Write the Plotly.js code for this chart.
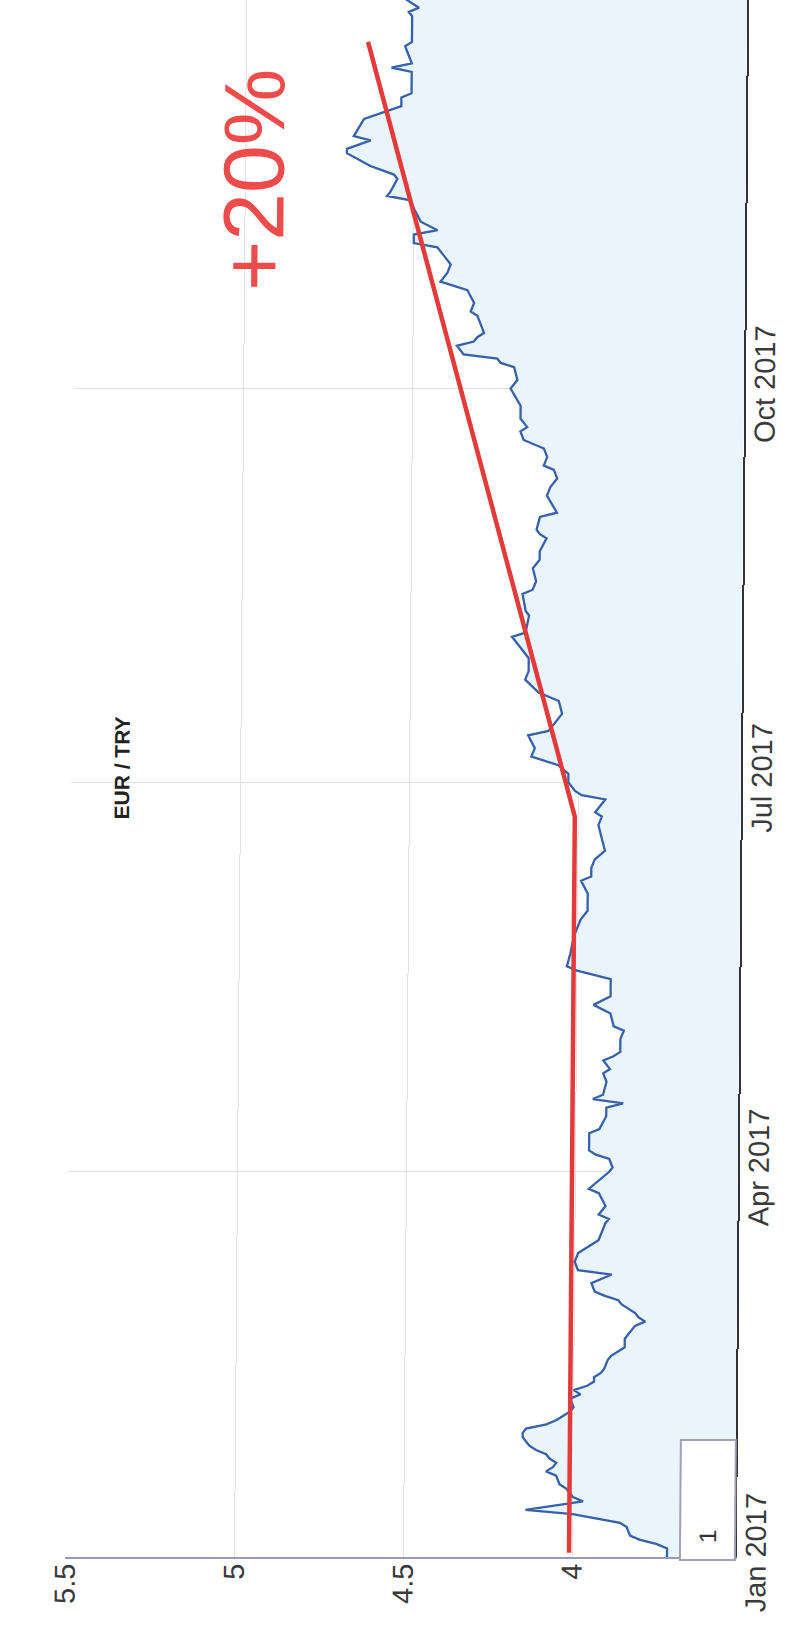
<!DOCTYPE html>
<html>
<head>
<meta charset="utf-8">
<script src="https://cdn.plot.ly/plotly-3.0.1.min.js"></script>
<style>
  html, body { margin: 0; padding: 0; background: #ffffff; overflow: hidden; }
  #chart { width: 787px; height: 1627px; transform: skewX(-0.45deg); transform-origin: 393px 778px; }
</style>
</head>
<body>
<div id="chart"></div>
<script>
// ---- data (EUR / TRY, 2017) ----
const dates = [
  '2017-01-01','2017-01-03','2017-01-04','2017-01-05','2017-01-06','2017-01-08','2017-01-09','2017-01-10',
  '2017-01-11','2017-01-12','2017-01-13','2017-01-14','2017-01-15','2017-01-17','2017-01-18','2017-01-20',
  '2017-01-21','2017-01-22','2017-01-23','2017-01-24','2017-01-25','2017-01-26','2017-01-27','2017-01-29',
  '2017-01-30','2017-01-31',
  '2017-02-01','2017-02-02','2017-02-03','2017-02-04','2017-02-05','2017-02-07','2017-02-08','2017-02-09',
  '2017-02-10','2017-02-11','2017-02-12','2017-02-13','2017-02-14','2017-02-16','2017-02-17','2017-02-18',
  '2017-02-19','2017-02-21','2017-02-23','2017-02-24','2017-02-25','2017-02-26','2017-02-27','2017-02-28',
  '2017-03-01','2017-03-02','2017-03-03','2017-03-04','2017-03-06','2017-03-08','2017-03-09','2017-03-11',
  '2017-03-13','2017-03-15','2017-03-16','2017-03-18','2017-03-20','2017-03-21','2017-03-22','2017-03-24',
  '2017-03-27','2017-03-28','2017-03-30',
  '2017-04-01','2017-04-02','2017-04-04','2017-04-05','2017-04-06','2017-04-08','2017-04-10','2017-04-11',
  '2017-04-14','2017-04-16','2017-04-17','2017-04-18','2017-04-19','2017-04-22','2017-04-24','2017-04-25',
  '2017-04-27','2017-04-28','2017-04-29',
  '2017-05-02','2017-05-04','2017-05-05','2017-05-08','2017-05-10','2017-05-12','2017-05-16','2017-05-18',
  '2017-05-19','2017-05-22','2017-05-26','2017-05-30',
  '2017-06-01','2017-06-05','2017-06-08','2017-06-09','2017-06-11','2017-06-13','2017-06-15','2017-06-18',
  '2017-06-21','2017-06-23','2017-06-24','2017-06-27','2017-06-28','2017-06-29',
  '2017-07-01','2017-07-03','2017-07-05','2017-07-07','2017-07-09','2017-07-12','2017-07-13','2017-07-16',
  '2017-07-17','2017-07-20','2017-07-21','2017-07-22','2017-07-25','2017-07-27','2017-07-30',
  '2017-08-04','2017-08-05','2017-08-09','2017-08-10','2017-08-14','2017-08-15','2017-08-17','2017-08-20',
  '2017-08-22','2017-08-24','2017-08-27','2017-08-28','2017-08-29',
  '2017-09-01','2017-09-02','2017-09-06','2017-09-08','2017-09-10','2017-09-12','2017-09-13','2017-09-15',
  '2017-09-17','2017-09-19','2017-09-21','2017-09-22','2017-09-24','2017-09-27',
  '2017-10-01','2017-10-03','2017-10-06','2017-10-07','2017-10-08','2017-10-09','2017-10-10','2017-10-11',
  '2017-10-12','2017-10-13','2017-10-14','2017-10-18','2017-10-19','2017-10-21','2017-10-24','2017-10-26',
  '2017-10-28','2017-10-30',
  '2017-11-01','2017-11-03','2017-11-04','2017-11-06','2017-11-07','2017-11-09','2017-11-12','2017-11-14',
  '2017-11-15','2017-11-16','2017-11-19','2017-11-20','2017-11-22','2017-11-25','2017-11-26','2017-11-28',
  '2017-11-29',
  '2017-12-03','2017-12-06','2017-12-08','2017-12-09','2017-12-13','2017-12-14','2017-12-15','2017-12-16',
  '2017-12-18','2017-12-20','2017-12-21','2017-12-27','2017-12-28','2017-12-29','2017-12-31'
];
const rates = [
  3.72,3.72,3.75,3.80,3.83,3.84,3.86,3.93,
  4.00,4.14,4.05,3.97,4.00,4.02,4.04,4.05,
  4.08,4.06,4.05,4.07,4.08,4.11,4.13,4.15,
  4.15,4.14,
  4.08,4.05,4.03,4.01,4.00,4.01,3.98,4.00,
  3.96,3.94,3.94,3.92,3.91,3.90,3.89,3.87,
  3.85,3.85,3.83,3.82,3.79,3.81,3.82,3.84,
  3.86,3.87,3.91,3.94,3.95,3.89,3.99,4.00,
  3.99,3.95,3.93,3.92,3.91,3.90,3.93,3.91,
  3.93,3.96,3.93,
  3.90,3.89,3.90,3.94,3.96,3.96,3.96,3.93,
  3.91,3.91,3.86,3.95,3.92,3.91,3.92,3.90,
  3.92,3.89,3.87,
  3.87,3.86,3.89,3.90,3.95,3.90,3.90,4.00,
  4.03,4.02,4.01,3.99,
  3.97,3.97,3.99,3.96,3.96,3.95,3.92,3.93,
  3.94,3.93,3.95,3.92,3.99,4.01,
  4.03,4.03,4.06,4.14,4.13,4.15,4.09,4.06,
  4.05,4.06,4.09,4.12,4.16,4.15,4.15,
  4.20,4.16,4.15,4.16,4.17,4.14,4.13,4.14,
  4.12,4.12,4.10,4.12,4.13,
  4.12,4.07,4.10,4.09,4.07,4.08,4.11,4.10,
  4.11,4.17,4.18,4.16,4.18,4.18,
  4.21,4.19,4.20,4.24,4.25,4.35,4.36,4.37,
  4.32,4.31,4.29,4.31,4.33,4.32,4.34,4.42,
  4.40,4.39,
  4.41,4.43,4.50,4.50,4.43,4.48,4.50,4.51,
  4.58,4.57,4.55,4.56,4.63,4.70,4.70,4.63,
  4.68,
  4.65,4.54,4.54,4.51,4.51,4.51,4.57,4.51,
  4.52,4.53,4.51,4.51,4.52,4.49,4.53
];
const trendDates = ['2017-01-02', '2017-06-23', '2017-12-21'];
const trendValues = [4.01, 4.01, 4.64];

const valueTicks = [4, 4.5, 5, 5.5];
const valueTickLabels = ['4', '4.5', '5', '5.5'];
const dateTicks = ['2017-01-01', '2017-04-01', '2017-07-01', '2017-10-01'];
const dateTickLabels = ['Jan 2017', 'Apr 2017', 'Jul 2017', 'Oct 2017'];

const titleText = 'EUR / TRY';
const changeText = '+20%';
const rangeButtonText = '1';

// ---- chart (drawn in the rotated orientation of the scan) ----
const FONT = 'Liberation Sans, Arial, Helvetica, sans-serif';

const traces = [
  {
    x: rates, y: dates, type: 'scatter', mode: 'lines',
    fill: 'tozerox', fillcolor: '#eaf4fb',
    line: { color: '#3461aa', width: 2.3 },
    hoverinfo: 'skip'
  },
  {
    x: trendValues, y: trendDates, type: 'scatter', mode: 'lines',
    line: { color: '#e53a3a', width: 4.5 },
    hoverinfo: 'skip'
  }
];

const layout = {
  width: 787, height: 1627,
  margin: { l: 71, r: 46, t: 0, b: 70 },
  paper_bgcolor: '#ffffff', plot_bgcolor: '#ffffff',
  showlegend: false,
  font: { family: FONT, color: '#3a3a3a' },
  xaxis: {
    range: [5.502, 3.519],
    tickmode: 'array', tickvals: valueTicks, ticktext: valueTickLabels,
    tickangle: -90, ticklabelstandoff: -7,
    tickfont: { family: FONT, size: 29, color: '#3a3a3a' },
    ticks: '', showgrid: true, gridcolor: '#e2e2e2', gridwidth: 1,
    zeroline: false,
    showline: true, linecolor: '#9a9ab4', linewidth: 2,
    fixedrange: true
  },
  yaxis: {
    type: 'date', side: 'right',
    range: ['2017-01-01', '2017-12-30 19:00'],
    tickmode: 'array', tickvals: dateTicks, ticktext: dateTickLabels,
    tickangle: -90, ticklabelstandoff: -6,
    tickfont: { family: FONT, size: 29, color: '#3a3a3a' },
    ticks: '', showgrid: true, gridcolor: '#e2e2e2', gridwidth: 1,
    zeroline: false,
    showline: true, linecolor: '#333333', linewidth: 2,
    fixedrange: true
  },
  shapes: [
    {
      type: 'rect', xref: 'paper', yref: 'paper', layer: 'above',
      x0: 0.918, x1: 1.0, y0: -0.002, y1: 0.0751,
      line: { color: '#a2a2b4', width: 2 }, fillcolor: '#ffffff'
    }
  ],
  annotations: [
    {
      text: '<b>' + titleText + '</b>', xref: 'paper', yref: 'paper',
      x: 0.076, y: 0.507, xanchor: 'center', yanchor: 'middle',
      textangle: -90, showarrow: false,
      font: { family: FONT, size: 21, color: '#222222' }
    },
    {
      text: changeText, xref: 'paper', yref: 'paper',
      x: 0.2657, y: 0.8844, xanchor: 'center', yanchor: 'middle',
      textangle: -90, showarrow: false,
      font: { family: FONT, size: 86, color: '#ee4b4b' }
    },
    {
      text: rangeButtonText, xref: 'paper', yref: 'paper',
      x: 0.9597, y: 0.0135, xanchor: 'center', yanchor: 'middle',
      textangle: -90, showarrow: false,
      font: { family: FONT, size: 24, color: '#333333' }
    }
  ]
};

Plotly.newPlot('chart', traces, layout, { displayModeBar: false, staticPlot: true });
</script>
</body>
</html>
